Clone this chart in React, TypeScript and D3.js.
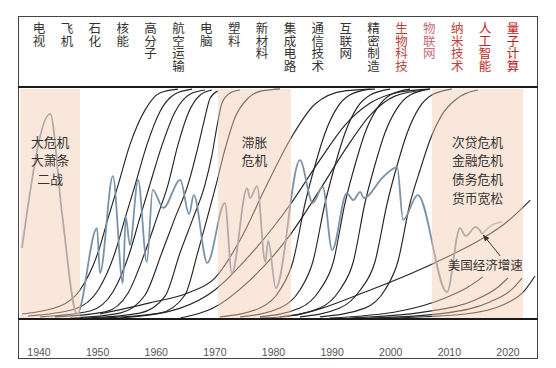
import { useEffect, useRef } from "react";
import * as d3 from "d3";

// header technologies, left to right
const techLabels = [
  "电视", "飞机", "石化", "核能", "高分子", "航空运输", "电脑", "塑料", "新材料",
  "集成电路", "通信技术", "互联网", "精密制造", "生物科技", "物联网", "纳米技术", "人工智能", "量子计算",
];
const yearTicks = [1940, 1950, 1960, 1970, 1980, 1990, 2000, 2010, 2020];

// crisis periods [from, to] and their notes
const crisisPeriods: [number, number][] = [
  [1936.8, 1947.0],
  [1970.5, 1983.0],
  [2007.0, 2022.6],
];
const crisisNotes = [
  ["大危机", "大萧条", "二战"],
  ["滞胀", "危机"],
  ["次贷危机", "金融危机", "债务危机", "货币宽松"],
];

// US growth (relative scale), [year, value]
const usGrowth: [number, number][] = [
  [1937.1, 30.1], [1941.9, 89.4], [1943.9, 46.0], [1946.5, 0.9], [1949.9, 38.9], [1950.4, 19.0],
  [1952.6, 61.9], [1954.3, 14.6], [1954.8, 43.8], [1955.5, 31.4], [1956.9, 60.2], [1958.4, 23.9],
  [1959.4, 55.8], [1961.2, 47.8], [1964.1, 60.2], [1965.6, 45.1], [1966.4, 53.5], [1968.7, 23.5],
  [1971.7, 50.0], [1972.9, 19.0], [1975.5, 56.6], [1976.0, 52.2], [1977.2, 57.5], [1978.6, 23.9],
  [1979.1, 33.2], [1980.4, 12.4], [1984.5, 69.0], [1986.7, 50.0], [1988.4, 57.1], [1990.0, 29.2],
  [1992.5, 54.4], [1993.6, 51.3], [1994.8, 54.9], [1995.4, 52.2], [1998.7, 61.5], [2001.1, 65.9],
  [2002.1, 42.5], [2004.6, 53.5], [2009.6, 10.6], [2011.8, 38.9], [2012.8, 35.4], [2014.5, 39.4],
  [2015.6, 36.3],
];
const usGrowthOutlook: [number, number][] = [[2015.6, 36.3], [2017.3, 40.3], [2019.0, 41.6]];

// technology S-curves (diffusion, 0-100), [year, value]
const firstWaveCurves: [number, number][][] = [
  [[1937.1, 0.9], [1943.6, 4.4], [1947.0, 11.5], [1950.1, 28.3], [1951.8, 43.4], [1953.5, 58.0], [1955.5, 75.7], [1958.1, 91.2], [1960.6, 98.7], [1963.7, 100.4]],
  [[1938.1, 0], [1946.1, 3.1], [1950.1, 11.5], [1953.0, 28.3], [1954.7, 43.4], [1956.4, 58.0], [1958.4, 75.7], [1960.6, 90.3], [1963.2, 98.2], [1966.1, 100.4]],
  [[1940.2, -0.4], [1948.7, 2.2], [1952.6, 10.6], [1955.5, 28.3], [1957.2, 43.4], [1958.9, 58.0], [1961.0, 75.7], [1963.2, 90.3], [1965.8, 98.2], [1968.3, 100]],
  [[1942.7, -0.4], [1951.3, 1.8], [1955.2, 10.2], [1958.1, 28.3], [1960.1, 43.4], [1962.0, 58.0], [1963.7, 75.7], [1965.4, 89.4], [1967.5, 97.8], [1969.5, 100]],
  [[1945.3, -0.9], [1953.8, 1.3], [1958.1, 9.3], [1961.0, 28.3], [1963.2, 43.4], [1965.4, 58.0], [1967.0, 73.5], [1968.2, 86.7], [1969.2, 96.5], [1970.5, 99.6]],
  [[1947.9, -0.9], [1957.2, 1.3], [1961.5, 8.8], [1964.1, 28.3], [1966.3, 43.4], [1968.3, 58.0], [1969.5, 71.2], [1970.4, 84.5], [1971.2, 94.2], [1972.6, 98.7], [1974.3, 100]],
  [[1950.4, -0.9], [1960.6, 1.3], [1964.9, 9.3], [1967.1, 28.3], [1968.7, 43.4], [1970.2, 58.0], [1971.7, 73.5], [1973.4, 87.6], [1975.7, 96.5], [1978.0, 99.6], [1981.1, 100.4]],
];
const materialCurves: [number, number][][] = [
  [[1950.4, 0.9], [1958.9, 5.8], [1965.8, 10.6], [1970.0, 16.8], [1974.3, 33.6], [1978.6, 56.6], [1982.8, 77.9], [1987.1, 93.8], [1992.2, 99.6], [1997.3, 100.4]],
  [[1953.8, -0.9], [1964.1, 3.5], [1970.0, 11.5], [1976.0, 27.0], [1982.8, 49.1], [1987.9, 69.0], [1992.2, 84.5], [1996.5, 94.2], [2001.6, 99.1], [2006.7, 100.4]],
  [[1964.1, -0.9], [1969.7, 3.5], [1976.0, 15.9], [1982.8, 35.8], [1987.9, 55.8], [1992.2, 73.5], [1996.5, 88.9], [2000.7, 97.3], [2005.8, 100]],
];
const infoCurves: [number, number][][] = [
  [[1970.9, -0.4], [1977.7, 3.5], [1981.1, 11.5], [1983.3, 23.9], [1985.4, 50.0], [1987.1, 66.8], [1988.8, 81.0], [1990.8, 92.0], [1993.0, 97.8], [1996.5, 100.4]],
  [[1974.3, -0.4], [1981.1, 3.5], [1984.5, 11.5], [1986.7, 23.9], [1988.8, 50.0], [1990.5, 66.8], [1992.2, 81.0], [1994.2, 92.0], [1996.5, 97.8], [1999.9, 100.4]],
  [[1977.7, -0.4], [1984.5, 3.5], [1987.9, 11.5], [1990.2, 23.9], [1992.2, 50.0], [1993.9, 66.8], [1995.6, 81.0], [1997.7, 92.0], [1999.9, 97.8], [2003.3, 100.4]],
  [[1981.1, -0.4], [1987.9, 3.5], [1991.3, 11.5], [1993.6, 23.9], [1995.6, 50.0], [1997.3, 66.8], [1999.0, 81.0], [2001.1, 92.0], [2003.3, 97.8], [2006.7, 100.4]],
  [[1984.5, -0.4], [1991.3, 3.5], [1994.8, 11.5], [1997.3, 23.9], [1999.4, 50.0], [2001.1, 66.8], [2002.8, 81.0], [2004.8, 92.0], [2007.0, 97.8], [2010.4, 100.4]],
  [[1987.9, -0.4], [1995.6, 3.5], [1999.0, 11.5], [2001.2, 23.9], [2003.3, 50.0], [2005.0, 64.6], [2006.7, 77.9], [2008.7, 88.9], [2011.0, 95.6], [2014.9, 100]],
];
const emergingCurves: [number, number][][] = [
  [[1977.7, -0.9], [1982.8, 0], [1996.5, 11.5], [2009.6, 26.1], [2015.2, 33.6], [2019.8, 41.6], [2023.8, 51.3]],
  [[1989.6, -0.9], [2001.6, 2.2], [2009.3, 8.0], [2013.2, 12.8], [2015.7, 17.3]],
  [[1993.0, -0.9], [2005.8, 1.8], [2014.4, 7.1], [2018.1, 12.4], [2020.0, 16.8]],
  [[1996.5, -0.9], [2009.3, 1.3], [2016.9, 6.2], [2020.7, 11.9], [2022.4, 16.8]],
  [[1999.9, -0.9], [2012.7, 0.9], [2019.5, 5.3], [2022.9, 11.5], [2024.6, 17.7]],
];

const labelColors = [
  "#333", "#333", "#333", "#333", "#333", "#333", "#333", "#333", "#333",
  "#333", "#333", "#333", "#333", "#b8443c", "#c76a7c", "#c0403a", "#c3261f", "#c0181a",
];

const CJK = "'Noto Sans CJK SC', 'Noto Sans', sans-serif";

export default function App() {
  const svgRef = useRef<SVGSVGElement>(null);

  useEffect(() => {
    if (!svgRef.current) return;
    const W = 556, H = 368;
    const frame = { left: 18, right: 537, top: 16, bottom: 358 };
    const plotTop = 87, plotBottom = 319;

    const svg = d3.select(svgRef.current);
    svg.selectAll("*").remove();
    svg.attr("width", W).attr("height", H);

    svg.append("rect").attr("width", W).attr("height", H).attr("fill", "#fff");

    const x = d3.scaleLinear().domain([1940, 2020]).range([39, 508]);
    const y = d3.scaleLinear().domain([0, 100]).range([316, 90]);

    const defs = svg.append("defs");
    defs.append("clipPath").attr("id", "plotClip")
      .append("rect")
      .attr("x", frame.left + 1).attr("y", plotTop + 1)
      .attr("width", frame.right - frame.left - 1).attr("height", plotBottom - plotTop - 1);
    defs.append("marker")
      .attr("id", "arrowHead")
      .attr("viewBox", "0 0 10 10")
      .attr("refX", 9).attr("refY", 5)
      .attr("markerWidth", 7).attr("markerHeight", 7)
      .attr("orient", "auto")
      .append("path").attr("d", "M0,1 L10,5 L0,9 Z").attr("fill", "#333");

    const plot = svg.append("g").attr("clip-path", "url(#plotClip)");

    const line = d3.line<[number, number]>()
      .x((d) => x(d[0]))
      .y((d) => y(d[1]))
      .curve(d3.curveMonotoneX);

    const allCurves = [...firstWaveCurves, ...materialCurves, ...infoCurves, ...emergingCurves];
    plot.selectAll("path.tech")
      .data(allCurves)
      .join("path")
      .attr("class", "tech")
      .attr("fill", "none")
      .attr("stroke", "#262626")
      .attr("stroke-width", 1.15)
      .attr("d", (d) => line(d));

    // growth line
    plot.append("path")
      .datum(usGrowthOutlook)
      .attr("fill", "none")
      .attr("stroke", "#aab4bd")
      .attr("stroke-width", 1.6)
      .attr("d", line);
    plot.append("path")
      .datum(usGrowth)
      .attr("fill", "none")
      .attr("stroke", "#7b93a8")
      .attr("stroke-width", 1.8)
      .attr("d", line);

    // crisis shading
    plot.selectAll("rect.crisis")
      .data(crisisPeriods)
      .join("rect")
      .attr("class", "crisis")
      .attr("x", (d) => x(d[0]))
      .attr("width", (d) => x(d[1]) - x(d[0]))
      .attr("y", plotTop + 2)
      .attr("height", plotBottom - plotTop - 3)
      .attr("fill", "#f4c9b0")
      .attr("opacity", 0.45);

    // crisis notes, one text per line
    crisisPeriods.forEach((p, i) => {
      const cx = x((p[0] + p[1]) / 2);
      svg.selectAll(`text.note${i}`)
        .data(crisisNotes[i])
        .join("text")
        .attr("class", `note${i}`)
        .attr("x", cx)
        .attr("y", (_, j) => 141 + j * 18.7)
        .attr("text-anchor", "middle")
        .attr("dominant-baseline", "central")
        .attr("font-family", CJK)
        .attr("font-size", 12.8)
        .attr("fill", "#333")
        .text((d) => d);
    });

    // arrow label for growth line
    const tip = usGrowth[usGrowth.length - 1];
    const tx = x(tip[0]), ty = y(tip[1]);
    svg.append("path")
      .attr("d", `M${tx + 18},${ty + 22} L${tx + 1},${ty + 1}`)
      .attr("stroke", "#333")
      .attr("stroke-width", 1)
      .attr("marker-end", "url(#arrowHead)");
    svg.append("text")
      .attr("x", tx + 3)
      .attr("y", ty + 31)
      .attr("text-anchor", "middle")
      .attr("dominant-baseline", "central")
      .attr("font-family", CJK)
      .attr("font-size", 12.5)
      .attr("fill", "#333")
      .text("美国经济增速");

    // frame
    svg.append("rect")
      .attr("x", frame.left + 0.5).attr("y", frame.top + 0.5)
      .attr("width", frame.right - frame.left).attr("height", frame.bottom - frame.top)
      .attr("fill", "none").attr("stroke", "#444").attr("stroke-width", 1);
    [plotTop, plotBottom].forEach((py) => {
      svg.append("line")
        .attr("x1", frame.left).attr("x2", frame.right + 1)
        .attr("y1", py).attr("y2", py)
        .attr("stroke", "#1a1a1a").attr("stroke-width", 2);
    });

    // header labels, written top to bottom
    const hx = d3.scalePoint<string>().domain(techLabels).range([39, 513]);
    svg.selectAll("text.tech-label")
      .data(techLabels)
      .join("text")
      .attr("class", "tech-label")
      .attr("x", (d) => hx(d) as number)
      .attr("y", 22)
      .attr("font-family", CJK)
      .attr("font-size", 12.5)
      .attr("fill", (_, i) => labelColors[i])
      .style("writing-mode", "vertical-rl")
      .style("text-orientation", "upright")
      .text((d) => d);

    // year labels
    svg.selectAll("text.year")
      .data(yearTicks)
      .join("text")
      .attr("class", "year")
      .attr("x", (d) => x(d))
      .attr("y", 352)
      .attr("text-anchor", "middle")
      .attr("dominant-baseline", "central")
      .attr("font-family", "'Liberation Sans', Arial, sans-serif")
      .attr("font-size", 10.5)
      .attr("fill", "#555")
      .text((d) => d);
  }, []);

  return <svg ref={svgRef} style={{ position: "absolute", left: 0, top: 0, display: "block" }} />;
}
